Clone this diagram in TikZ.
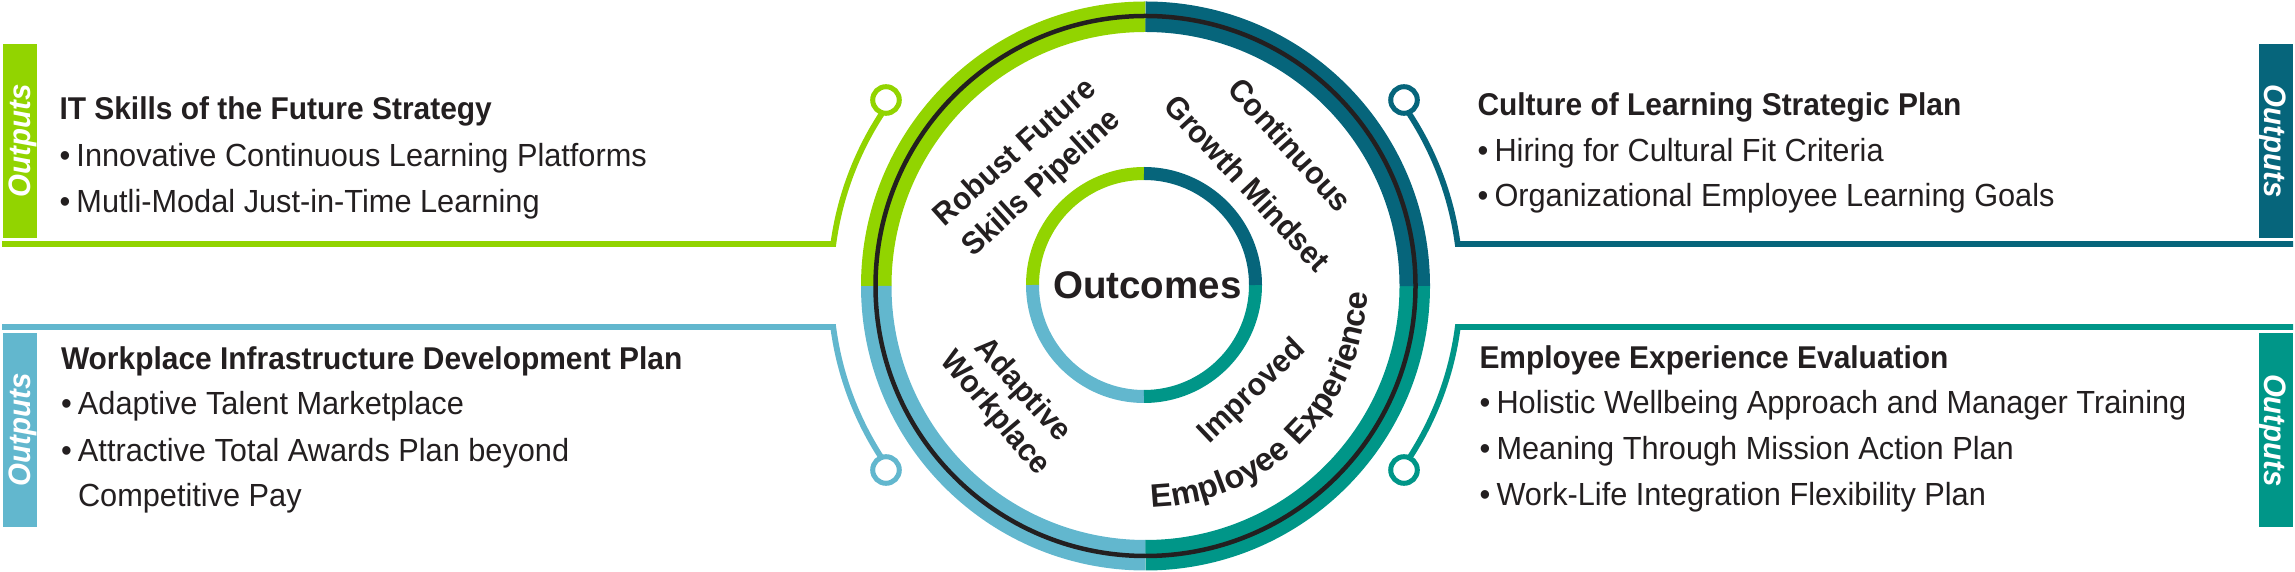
\documentclass[tikz,border=0pt]{standalone}
\usepackage{fontspec}
\setmainfont{Liberation Sans}
\newfontfamily\xregf{Liberation Sans}[FakeStretch=0.96]
\newfontfamily\xboldf{Liberation Sans}[FakeStretch=0.95]
\usetikzlibrary{decorations.text,calc}
\definecolor{cgreen}{HTML}{92D400}
\definecolor{cdteal}{HTML}{06657B}
\definecolor{cteal}{HTML}{009688}
\definecolor{cblue}{HTML}{62B7CE}
\definecolor{ctext}{HTML}{231F20}
\newcommand\xbody{\xregf\fontsize{32}{38}\selectfont}
\newcommand\xhead{\xboldf\bfseries\fontsize{31.5}{38}\selectfont}
\newcommand\xring{\xboldf\bfseries\fontsize{31.5}{38}\selectfont}
\newcommand\xringw{\bfseries\fontsize{32.5}{38}\selectfont}
\newcommand\xtab{\xboldf\bfseries\itshape\fontsize{31}{36}\selectfont}
\newcommand\xcenter{\bfseries\fontsize{38.5}{44}\selectfont}
\newcommand\xbul{\makebox[17pt][l]{•}}
\tikzset{
  body/.style={anchor=base west, inner sep=0pt, outer sep=0pt, text=ctext, font=\xbody},
  head/.style={anchor=base west, inner sep=0pt, outer sep=0pt, text=ctext, font=\xhead},
  ringlbl/.style={anchor=base, inner sep=0pt, outer sep=0pt, text=ctext, font=\xring},
  tab/.style={inner sep=0pt, outer sep=0pt, minimum width=194pt, minimum height=34pt,
    text height=22.5pt, text depth=0pt, text=white, font=\xtab},
  conn/.style={line width=5.8pt},
  dot/.style={circle, draw, fill=white, line width=5pt, minimum size=26.6pt, inner sep=0pt},
  band/.style={line width=30.5pt},
  iband/.style={line width=13pt},
}
\begin{document}
\begin{tikzpicture}[x=1pt,y=1pt]
\useasboundingbox (0,0) rectangle (2295,572);
\coordinate (C0) at (1145.5,286);
\coordinate (C1) at (1144,287);

% outer band
\draw[band, cgreen] ($(C0)+(90:269.25)$) arc[start angle=90, end angle=180, radius=269.25];
\draw[band, cblue] ($(C0)+(180:269.25)$) arc[start angle=180, end angle=270, radius=269.25];
\draw[band, cteal] ($(C0)+(270:269.25)$) arc[start angle=270, end angle=360, radius=269.25];
\draw[band, cdteal] ($(C0)+(0:269.25)$) arc[start angle=0, end angle=90, radius=269.25];
\draw[line width=4.5pt, ctext] (C0) circle[radius=270];

% inner ring
\draw[iband, cgreen] ($(C1)+(90:111.5)$) arc[start angle=90, end angle=180, radius=111.5];
\draw[iband, cblue] ($(C1)+(180:111.5)$) arc[start angle=180, end angle=270, radius=111.5];
\draw[iband, cteal] ($(C1)+(270:111.5)$) arc[start angle=270, end angle=360, radius=111.5];
\draw[iband, cdteal] ($(C1)+(0:111.5)$) arc[start angle=0, end angle=90, radius=111.5];

\node[anchor=base, inner sep=0pt, text=ctext, font=\xcenter] (outc) at (1147.4,273.3) {Outcomes};

% ring labels
\node[ringlbl, rotate=41.7] (rf) at (1021.3,412.5) {Robust Future};
\node[ringlbl, rotate=42.3] (sp) at (1047.7,382.0) {Skills Pipeline};
\node[ringlbl, rotate=-47.9] (cont) at (1282.0,419.7) {Continuous};
\node[ringlbl, rotate=-47.1] (gm) at (1239.1,381.2) {Growth Mindset};
\node[ringlbl, rotate=-48.2] (adap) at (1016.1,176.0) {Adaptive};
\node[ringlbl, rotate=-49.9] (work) at (988.5,153.0) {Workplace};
\node[ringlbl, rotate=43.6] (impr) at (1258.2,174.2) {Improved};
\path[decorate, decoration={text along path, text align=center,
  text={|\color{ctext}\xringw|Employee Experience}}]
  ($(C0)+(-135:221.7)$) arc[start angle=-135, end angle=45, radius=221.7];

% connectors
\coordinate (tl-start) at (2,328);
\coordinate (tl-corner) at (833.3,328);
\coordinate (tr-end) at (2293,328);
\coordinate (tr-corner) at (1457.7,328);
\coordinate (bl-start) at (2,245);
\coordinate (bl-corner) at (833.2,245);
\coordinate (br-end) at (2293,245);
\coordinate (br-corner) at (1457.8,245);
\draw[conn, cgreen] (tl-start) -- (tl-corner) arc[start angle=172.34, end angle=145.5, radius=315];
\draw[conn, cdteal] (tr-end) -- (tr-corner) arc[start angle=7.66, end angle=34.5, radius=315];
\draw[conn, cblue] (bl-start) -- (bl-corner) arc[start angle=187.48, end angle=214.5, radius=315];
\draw[conn, cteal] (br-end) -- (br-corner) arc[start angle=-7.48, end angle=-34.5, radius=315];
\node[dot, draw=cgreen] (tl-dot) at (886,472) {};
\node[dot, draw=cdteal] (tr-dot) at (1404,472) {};
\node[dot, draw=cblue] (bl-dot) at (886,102) {};
\node[dot, draw=cteal] (br-dot) at (1404,102) {};

% tabs
\node[tab, fill=cgreen, rotate=90] (tl-tab) at (19.5,431) {Outputs};
\node[tab, fill=cblue, rotate=90] (bl-tab) at (19.5,142) {Outputs};
\node[tab, fill=cdteal, rotate=-90] (tr-tab) at (2275.5,431) {Outputs};
\node[tab, fill=cteal, rotate=-90] (br-tab) at (2275.5,141.5) {Outputs};

% text blocks
\node[head] (tl-h) at (59.5,452) {IT Skills of the Future Strategy};
\node[body] (tl-b1) at (59.5,405.5) {\xbul Innovative Continuous Learning Platforms};
\node[body] (tl-b2) at (59.5,359.6) {\xbul Mutli-Modal Just-in-Time Learning};

\node[head] (tr-h) at (1477.5,456.7) {Culture of Learning Strategic Plan};
\node[body] (tr-b1) at (1477.5,410.7) {\xbul Hiring for Cultural Fit Criteria};
\node[body] (tr-b2) at (1477.5,365) {\xbul Organizational Employee Learning Goals};

\node[head] (bl-h) at (61,202) {Workplace Infrastructure Development Plan};
\node[body] (bl-b1) at (61,157) {\xbul Adaptive Talent Marketplace};
\node[body] (bl-b2) at (61,110.3) {\xbul Attractive Total Awards Plan beyond};
\node[body] (bl-b3) at (78,65.3) {Competitive Pay};

\node[head] (br-h) at (1479.5,203.3) {Employee Experience Evaluation};
\node[body] (br-b1) at (1479.5,158.3) {\xbul Holistic Wellbeing Approach and Manager Training};
\node[body] (br-b2) at (1479.5,112.7) {\xbul Meaning Through Mission Action Plan};
\node[body] (br-b3) at (1479.5,66.7) {\xbul Work-Life Integration Flexibility Plan};
\end{tikzpicture}
\end{document}
